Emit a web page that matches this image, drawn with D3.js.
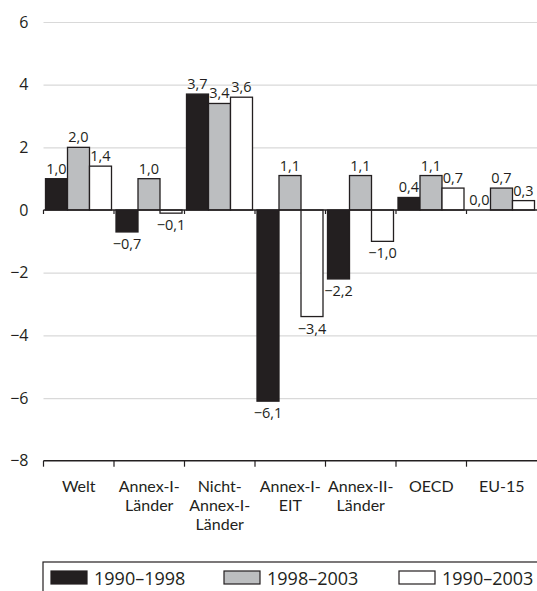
<!DOCTYPE html>
<html>
<head>
<meta charset="utf-8">
<script src="https://cdn.jsdelivr.net/npm/d3@7"></script>
<style>
  body { margin: 0; background: #fff; }
  svg text { font-family: "Open Sans", sans-serif; fill: #231f20; }
</style>
</head>
<body>
<div id="chart"></div>
<script>
const categories = ["Welt", "Annex-I-Länder", "Nicht-Annex-I-Länder", "Annex-I-EIT", "Annex-II-Länder", "OECD", "EU-15"];
// label lines under the axis
const categoryLines = [
    ["Welt"],
    ["Annex-I-", "Länder"],
    ["Nicht-", "Annex-I-", "Länder"],
    ["Annex-I-", "EIT"],
    ["Annex-II-", "Länder"],
    ["OECD"],
    ["EU-15"]
];
const seriesNames = ["1990–1998", "1998–2003", "1990–2003"];
const values1990_1998 = [1.0, -0.7, 3.7, -6.1, -2.2, 0.4, 0.0];
const values1998_2003 = [2.0, 1.0, 3.4, 1.1, 1.1, 1.1, 0.7];
const values1990_2003 = [1.4, -0.1, 3.6, -3.4, -1.0, 0.7, 0.3];
const yTicks = [-8, -6, -4, -2, 0, 2, 4, 6];
const fills = ["#231f20", "#bcbec0", "#ffffff"];

const fullWidth = 537;
const fullHeight = 591;
const left = 43.5, right = 537;

const seriesValues = [values1990_1998, values1998_2003, values1990_2003];
const data = categories.map((c, i) => ({
    cat: c,
    vals: seriesValues.map((s, j) => ({ series: seriesNames[j], v: s[i], idx: j }))
}));

const locale = d3.formatLocale({ decimal: ",", thousands: ".", grouping: [3], currency: ["", "€"], minus: "\u2212" });
const fmt1 = locale.format(".1f");
const fmt0 = locale.format("d");

const svg = d3.select("#chart")
    .append("svg")
    .attr("width", fullWidth)
    .attr("height", fullHeight);

const yScale = d3.scaleLinear()
    .domain([-8, 6])
    .range([460.7, 22]);

const xScale = d3.scaleBand()
    .domain(categories)
    .range([left, right]);

const bw = xScale.bandwidth();
const seriesScale = d3.scaleBand()
    .domain(seriesNames)
    .range([2, bw - 2.5]);

// grid
svg.append("g")
    .attr("transform", `translate(${left},0)`)
    .call(d3.axisLeft(yScale).tickValues(yTicks.filter(t => t !== 0 && t !== -8)).tickSize(-(right - left)).tickFormat(""))
    .call(g => g.select(".domain").remove())
    .call(g => g.selectAll(".tick line").attr("stroke", "#d9d9d9").attr("stroke-width", 1.2));

// y labels
svg.append("g")
    .attr("transform", `translate(${left},0)`)
    .call(d3.axisLeft(yScale).tickValues(yTicks).tickSize(0).tickPadding(15).tickFormat(fmt0))
    .call(g => g.select(".domain").remove())
    .call(g => g.selectAll(".tick text").attr("font-size", 16).attr("font-family", "'Open Sans', sans-serif").attr("fill", "#231f20"));

// bars
const groups = svg.append("g")
    .selectAll("g.group")
    .data(data)
    .enter()
    .append("g")
    .classed("group", true)
    .attr("transform", d => `translate(${xScale(d.cat)},0)`);

groups.selectAll("rect.bar")
    .data(d => d.vals)
    .enter()
    .append("rect")
    .classed("bar", true)
    .attr("x", d => seriesScale(d.series))
    .attr("width", seriesScale.bandwidth())
    .attr("y", d => yScale(Math.max(0, d.v)))
    .attr("height", d => Math.abs(yScale(d.v) - yScale(0)))
    .attr("fill", d => fills[d.idx])
    .attr("stroke", "#231f20")
    .attr("stroke-width", 1.3);

groups.selectAll("text.val")
    .data(d => d.vals)
    .enter()
    .append("text")
    .classed("val", true)
    .attr("x", d => seriesScale(d.series) + seriesScale.bandwidth() / 2)
    .attr("y", d => d.v >= 0 ? yScale(d.v) - 5 : yScale(d.v) + 17)
    .attr("text-anchor", "middle")
    .attr("font-size", 14.5)
    .text(d => fmt1(d.v));

// zero line with ticks
const zeroY = yScale(0);
svg.append("line")
    .attr("x1", left).attr("x2", right)
    .attr("y1", zeroY).attr("y2", zeroY)
    .attr("stroke", "#231f20").attr("stroke-width", 1.5);
svg.append("g")
    .selectAll("line")
    .data(categories)
    .enter()
    .append("line")
    .attr("x1", d => xScale(d)).attr("x2", d => xScale(d))
    .attr("y1", zeroY).attr("y2", zeroY + 4)
    .attr("stroke", "#231f20").attr("stroke-width", 1.2);

// bottom axis
const baseY = yScale(-8);
svg.append("line")
    .attr("x1", left).attr("x2", right)
    .attr("y1", baseY).attr("y2", baseY)
    .attr("stroke", "#231f20").attr("stroke-width", 1.5);
svg.append("g")
    .selectAll("line")
    .data(categories)
    .enter()
    .append("line")
    .attr("x1", d => xScale(d)).attr("x2", d => xScale(d))
    .attr("y1", baseY).attr("y2", baseY + 6)
    .attr("stroke", "#231f20").attr("stroke-width", 1.2);

// one text per line
const labelRows = [];
categories.forEach((c, i) => categoryLines[i].forEach((t, k) => labelRows.push({ cat: c, text: t, row: k })));

svg.append("g")
    .selectAll("text")
    .data(labelRows)
    .enter()
    .append("text")
    .attr("x", d => xScale(d.cat) + bw / 2)
    .attr("y", d => baseY + 31 + d.row * 19.3)
    .attr("text-anchor", "middle")
    .style("font-family", "Lato, sans-serif")
    .attr("font-size", 16)
    .text(d => d.text);

// legend
svg.append("rect")
    .attr("x", 43).attr("y", 562)
    .attr("width", 600).attr("height", 100)
    .attr("fill", "none")
    .attr("stroke", "#231f20").attr("stroke-width", 1.2);

const legendX = [51, 224, 399];
const legend = svg.append("g")
    .selectAll("g")
    .data(seriesNames)
    .enter()
    .append("g")
    .attr("transform", (d, i) => `translate(${legendX[i]},571)`);

legend.append("rect")
    .attr("width", 36).attr("height", 13)
    .attr("fill", (d, i) => fills[i])
    .attr("stroke", "#231f20").attr("stroke-width", 1.2);

legend.append("text")
    .attr("x", 43).attr("y", 13.5)
    .attr("font-size", 18)
    .text(d => d);
</script>
</body>
</html>
